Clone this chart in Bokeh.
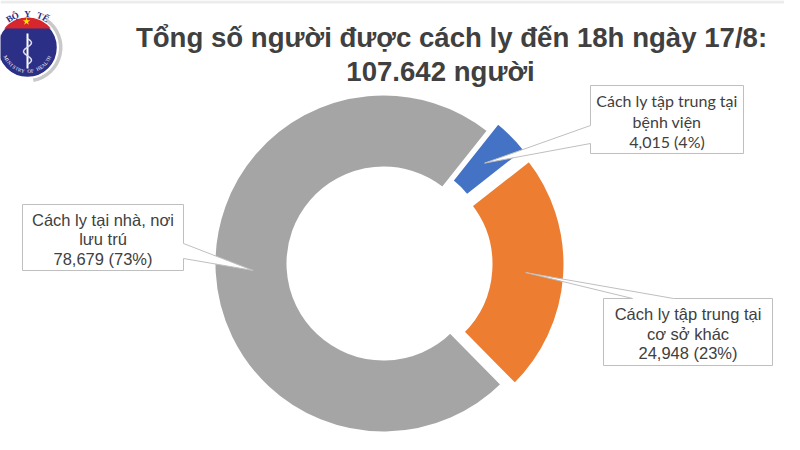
import numpy as np
from bokeh.plotting import figure
from bokeh.models import Range1d
from bokeh.core.properties import value
from bokeh.embed import file_html
from bokeh.resources import INLINE

# ---------------- data ----------------
categories = ["Cách ly tập trung tại bệnh viện",
              "Cách ly tập trung tại cơ sở khác",
              "Cách ly tại nhà, nơi lưu trú"]
counts = [4015, 24948, 78679]
percent_labels = ["4%", "23%", "73%"]
label_lines = [["Cách ly tập trung tại", "bệnh viện"],
               ["Cách ly tập trung tại", "cơ sở khác"],
               ["Cách ly tại nhà, nơi", "lưu trú"]]
colors = ["#4472C4", "#ED7D31", "#A5A5A5"]
title_line1 = "Tổng số người được cách ly đến 18h ngày 17/8:"
title_line2 = "107.642 người"
logo_top_text = "BỘ Y TẾ"
logo_bottom_text = "MINISTRY OF HEALTH"

# ---------------- layout (reference pixel frame, y down) ----------------
W, H = 784, 434
def Y(ry):
    return H - ry

CX, CY = 383, 263          # donut centre
R_OUT, R_IN = 168, 93
START_DEG = 38.5           # first slice starts here, clockwise from 12 o'clock
EXPLODE = [12, 12, 0]
label_fonts = ["Lato", "Liberation Sans", "Liberation Sans"]
label_sizes = ["16px", "16.5px", "16.5px"]
label_steps = [20.5, 19.5, 19.5]
# callout boxes: x0, x1, y0, y1, side of pointer, two attach coords
boxes = [
    (590, 743, 85, 153, "left", 125, 143),
    (603, 772, 298, 365, "top", 632, 673),
    (22, 183, 204, 270, "right", 243, 258),
]

p = figure(width=W, height=H, x_range=Range1d(0, W), y_range=Range1d(0, H),
           output_backend="svg", toolbar_location=None, min_border=0)
p.axis.visible = False
p.grid.visible = False
p.outline_line_color = None
p.background_fill_color = "white"

# thin grey band at the very top of the slide image
p.quad(left=0, right=W, bottom=Y(3), top=Y(0), fill_color="#ECECEC", line_color=None)

# ---------------- donut ----------------
total = float(sum(counts))
fracs = [c / total for c in counts]
theta = START_DEG
tips = []
for i, f in enumerate(fracs):
    t1 = theta
    t2 = theta + f * 360.0
    tm = (t1 + t2) / 2.0
    e = EXPLODE[i]
    x0 = CX + e * np.sin(np.radians(tm))
    y0 = Y(CY) + e * np.cos(np.radians(tm))
    p.annular_wedge(x=x0, y=y0, inner_radius=R_IN + 2, outer_radius=R_OUT + 2,
                    start_angle=np.radians(90 - t2), end_angle=np.radians(90 - t1),
                    fill_color=colors[i], line_color="white", line_width=4)
    rm = (R_IN + R_OUT) / 2.0
    tips.append((x0 + rm * np.sin(np.radians(tm)), y0 + rm * np.cos(np.radians(tm))))
    theta = t2

# ---------------- callouts ----------------
for i, (bx0, bx1, by0, by1, side, a, b) in enumerate(boxes):
    tx, ty = tips[i]
    if side == "right":
        pts = [(bx0, Y(by0)), (bx1, Y(by0)), (bx1, Y(a)), (tx, ty), (bx1, Y(b)),
               (bx1, Y(by1)), (bx0, Y(by1))]
    elif side == "left":
        pts = [(bx0, Y(by0)), (bx1, Y(by0)), (bx1, Y(by1)), (bx0, Y(by1)),
               (bx0, Y(b)), (tx, ty), (bx0, Y(a))]
    else:
        pts = [(bx0, Y(by0)), (a, Y(by0)), (tx, ty), (b, Y(by0)), (bx1, Y(by0)),
               (bx1, Y(by1)), (bx0, Y(by1))]
    p.patch([q[0] for q in pts], [q[1] for q in pts], fill_color="white",
            line_color="#BFBFBF", line_width=1)
    lines = label_lines[i] + [f"{counts[i]:,} ({percent_labels[i]})"]
    xc = (bx0 + bx1) / 2.0
    n = len(lines)
    ymid = (by0 + by1) / 2.0 + 1.5
    step = label_steps[i]
    ys = [Y(ymid + (k - (n - 1) / 2.0) * step) for k in range(n)]
    p.text(x=[xc] * n, y=ys, text=lines, text_align="center", text_baseline="middle",
           text_font=value(label_fonts[i]), text_font_size=label_sizes[i],
           text_color="#404040")

# ---------------- title ----------------
p.text(x=[451], y=[Y(37)], text=[title_line1], text_align="center",
       text_baseline="alphabetic", text_font=value("Liberation Sans"),
       text_font_style="bold", text_font_size="27.6px", text_color="#404040")
p.text(x=[440], y=[Y(71)], text=[title_line2], text_align="center",
       text_baseline="alphabetic", text_font=value("Liberation Sans"),
       text_font_style="bold", text_font_size="27.6px", text_color="#404040")

# ---------------- logo (approximation) ----------------
LX, LY, LR = 27, 47, 30
p.annular_wedge(x=LX, y=Y(LY), inner_radius=LR + 1.5, outer_radius=LR + 5,
                start_angle=np.radians(-80), end_angle=np.radians(55),
                fill_color="#C9C9C9", line_color=None)
p.circle(x=LX, y=Y(LY), radius=LR, fill_color="#2B2F86", line_color="white", line_width=1.5)
a0 = np.degrees(np.arcsin(19 / float(LR)))
angs = np.radians(np.linspace(a0, 180 - a0, 40))
p.patch(list(LX + LR * np.cos(angs)), list(Y(LY) + LR * np.sin(angs)),
        fill_color="#D7262E", line_color=None)
p.scatter(x=[LX - 1], y=[Y(21)], marker="star", size=8, fill_color="#FFE000", line_color=None)
p.line(x=[LX, LX], y=[Y(33), Y(68)], line_color="white", line_width=2)
p.line(x=list(LX + 4 * np.sin(np.linspace(0, 3 * np.pi, 20))),
       y=list(Y(38) - np.linspace(0, 26, 20)), line_color="#DDDDEE", line_width=1.5)
# arc text: top (outside) and bottom (inside)
top_chars = list(logo_top_text)
top_th = np.linspace(122, 58, len(top_chars))
p.text(x=list(LX + 34 * np.cos(np.radians(top_th))), y=list(Y(LY) + 34 * np.sin(np.radians(top_th))),
       text=top_chars, angle=list(np.radians(top_th - 90)), text_align="center",
       text_baseline="middle", text_font=value("Liberation Serif"), text_font_style="bold",
       text_font_size="9px", text_color="#2B2F86")
bot_chars = list(logo_bottom_text)
bot_th = np.linspace(205, 335, len(bot_chars))
p.text(x=list(LX + 24 * np.cos(np.radians(bot_th))), y=list(Y(LY) + 24 * np.sin(np.radians(bot_th))),
       text=bot_chars, angle=list(np.radians(bot_th - 270)), text_align="center",
       text_baseline="middle", text_font=value("Liberation Serif"),
       text_font_size="5px", text_color="white")

open("out.html", "w").write(file_html(p, INLINE))
